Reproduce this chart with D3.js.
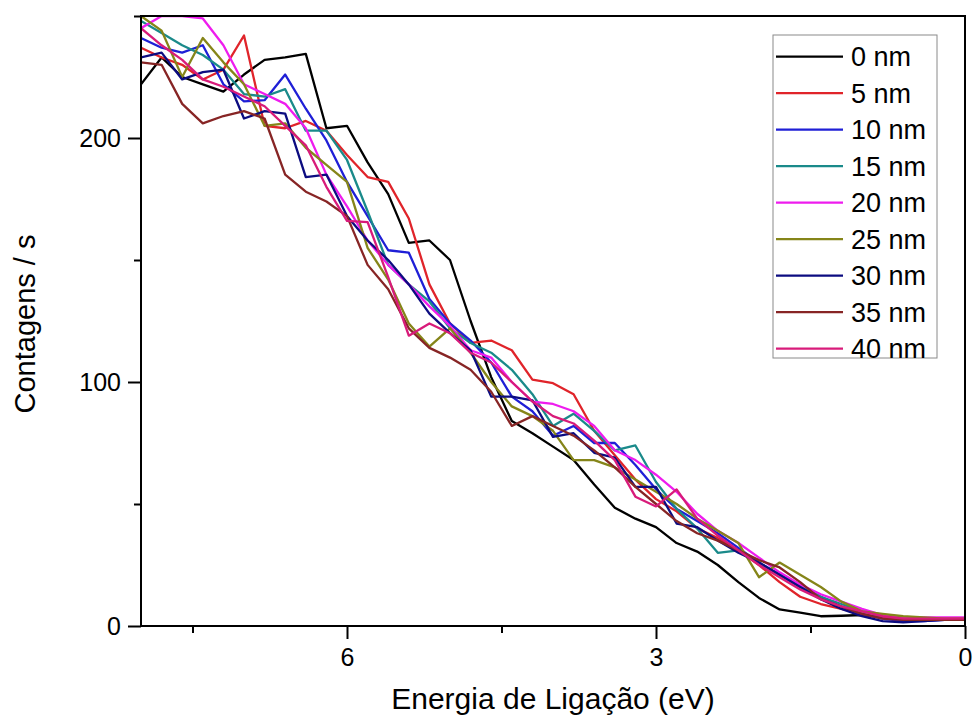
<!DOCTYPE html>
<html><head><meta charset="utf-8">
<script src="https://cdn.jsdelivr.net/npm/d3@7"></script>
<style>
body{margin:0;background:#fff}
text{font-family:"Liberation Sans",Arial,sans-serif;fill:#000}
</style>
</head><body>
<svg id="chart" width="975" height="720"></svg>
<script>
// ---- data ----
const energies = [8.0,7.8,7.6,7.4,7.2,7.0,6.8,6.6,6.4,6.2,6.0,5.8,5.6,5.4,5.2,5.0,4.8,4.6,4.4,4.2,4.0,3.8,3.6,3.4,3.2,3.0,2.8,2.6,2.4,2.2,2.0,1.8,1.6,1.4,1.2,1.0,0.8,0.6,0.4,0.2,0.0];
const seriesNames = ["0 nm","5 nm","10 nm","15 nm","20 nm","25 nm","30 nm","35 nm","40 nm"];
const seriesColors = ["#000000","#e0242a","#1f1fd6","#1a8a8a","#ee1cee","#858519","#0c0c80","#872525","#d81b7a"];
const counts0nm  = [222,233,225,222,219,226,232,233,234.5,204,205,190,177,157,158,150,125,102,84,79,73.5,68,58,48.5,44,40.5,34,30.5,25,18,11.5,6.8,5.5,4,4.2,4.5,3.5,3,2.5,2.5,2.5];
const counts5nm  = [237,233,230,224,228,242,205,204,207,203,193,184,182,167,140,124,116,117,113,101,99.5,95,80,70,60,52,47,40,36,31,25,18,12,9,7,5,3.5,2.5,2.5,2.5,2.5];
const counts10nm = [241,237,235,238,222,215,215.5,226,212,199,182,168,154,153,134,124,117,108,94,88,78,82,75,75,66,56,48,43,38,32,26,21,16,12,8,5,3,2,2,2.5,2.5];
const counts15nm = [248,243,238,234,228,218,217,220,203,203,191,170,148,140,133,122,116,112,105,95,82,87,80,72,74,59,48,40,30,31,26,21,17,12,9,6,4.5,3.5,3,3,3];
const counts20nm = [245,250,250,249,238,222,218,214,204,185,172,158,148,140,131,123,113,110,100,92,91,88,82,72,68,62,55,46,39,34,28,22,17,13,10,7,4.5,3.5,3.5,3.5,3.5];
const counts25nm = [250,244,225,241,231,222,205,206,196,189,182,155,142,124,114.5,122,112,100,90,86,80,68,68,65,60,55,50,44,39,34,20,26,21,16,10,6,5,4,3.5,3,3];
const counts30nm = [233,235,224,227,228,208,211,210,184,185,168,158,150,140,128,120,113,94,94,92.5,77.5,79,71,69,57,57,42,40.5,35,30,26,21,16,11,7,4,2,1.5,2,2.5,2.5];
const counts35nm = [231,230,214,206,209,211,208,185,178,174,168,148,138,122,114,110,105,96,82,86,82,78,72,65,57,50,43,38,35,31,27,24,18,11,8,5,3,2.5,2.5,2.5,2.5];
const counts40nm = [245,238,232,224,221,217,213,205,197,180,166,165.5,143,119,124,120,112,108,100,92,86,83,76,68,53,49,56,44,37,31,25,20,15,11,8,6,4,3,3,3,3];
const seriesValues = [counts0nm,counts5nm,counts10nm,counts15nm,counts20nm,counts25nm,counts30nm,counts35nm,counts40nm];
const xMajorTicks = [6,3,0];
const xMinorTicks = [7.5,4.5,1.5];
const yMajorTicks = [0,100,200];
const yMinorTicks = [50,150,250];
const xTitle = "Energia de Ligação (eV)";
const yTitle = "Contagens / s";

// ---- layout ----
const L = 141, R = 965, T = 16, B = 626;
const svg = d3.select("#chart");
const x = d3.scaleLinear().domain([8,0]).range([L,R]);
const y = d3.scaleLinear().domain([0,250]).range([B,T]);

svg.append("defs").append("clipPath").attr("id","clip")
  .append("rect").attr("x",L).attr("y",T).attr("width",R-L).attr("height",B-T);

// lines
const line = d3.line().x((d,i)=>x(energies[i])).y(d=>y(d));
const gl = svg.append("g").attr("clip-path","url(#clip)");
seriesValues.forEach((vals,k)=>{
  gl.append("path").datum(vals).attr("d",line)
    .attr("fill","none").attr("stroke",seriesColors[k])
    .attr("stroke-width",2.3).attr("stroke-linejoin","round");
});

// axes
function styleAxis(g){
  g.select(".domain").remove();
  g.selectAll(".tick line").attr("stroke","#000").attr("stroke-width",2);
  g.selectAll("text").style("font-size","25px").attr("fill","#000");
}
svg.append("g").attr("transform",`translate(0,${B})`)
  .call(d3.axisBottom(x).tickValues(xMajorTicks).tickSize(13).tickPadding(9).tickFormat(d3.format("d")))
  .call(styleAxis);
svg.append("g").attr("transform",`translate(0,${B})`)
  .call(d3.axisBottom(x).tickValues(xMinorTicks).tickSize(7).tickFormat(""))
  .call(styleAxis);
svg.append("g").attr("transform",`translate(${L},0)`)
  .call(d3.axisLeft(y).tickValues(yMajorTicks).tickSize(13).tickPadding(7).tickFormat(d3.format("d")))
  .call(styleAxis);
svg.append("g").attr("transform",`translate(${L},0)`)
  .call(d3.axisLeft(y).tickValues(yMinorTicks).tickSize(7).tickFormat(""))
  .call(styleAxis);

// frame
svg.append("rect").attr("x",L).attr("y",T).attr("width",R-L).attr("height",B-T)
  .attr("fill","none").attr("stroke","#000").attr("stroke-width",2);

// titles
svg.append("text").attr("x",(L+R)/2).attr("y",709).attr("text-anchor","middle")
  .style("font-size","30px").text(xTitle);
svg.append("text").attr("transform",`translate(35,${(T+B)/2 + 3}) rotate(-90)`)
  .attr("text-anchor","middle").style("font-size","29px").text(yTitle);

// legend
const lg = svg.append("g");
lg.append("rect").attr("x",773).attr("y",35).attr("width",164).attr("height",323)
  .attr("fill","#fff").attr("stroke","#8a8a8a").attr("stroke-width",1);
seriesNames.forEach((name,k)=>{
  const yy = 56.7 + k*36.5;
  lg.append("line").attr("x1",776).attr("x2",843).attr("y1",yy).attr("y2",yy)
    .attr("stroke",seriesColors[k]).attr("stroke-width",2.3);
  lg.append("text").attr("x",851).attr("y",yy).attr("dy","0.36em")
    .style("font-size","27px").text(name);
});
</script>
</body></html>
